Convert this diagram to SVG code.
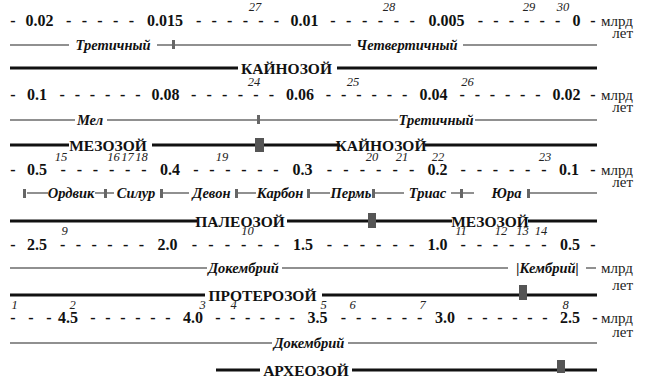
<svg xmlns="http://www.w3.org/2000/svg" width="650" height="383" viewBox="0 0 650 383">
<style>
text{font-family:"Liberation Serif","Times New Roman","DejaVu Serif",serif;fill:#111}
.num{font-weight:bold;font-size:16px;text-anchor:middle}
.dash{font-weight:bold;font-size:16px;text-anchor:middle}
.sup{font-style:italic;font-size:12.5px;fill:#222;text-anchor:middle}
.unit{font-size:15px;fill:#222;text-anchor:end}
.per{font-weight:bold;font-style:italic;font-size:14.5px;text-anchor:middle}
.era{font-weight:bold;font-size:15.5px;text-anchor:middle}
.thin{stroke:#222;stroke-width:1.2;fill:none}
.thick{stroke:#111;stroke-width:3;fill:none}
.tick{fill:#666}
.block{fill:#555}
</style>
<rect width="650" height="383" fill="#fff"/>

<g id="row1">
<text class="sup" y="11"><tspan x="255">27</tspan><tspan x="389">28</tspan><tspan x="529">29</tspan><tspan x="563">30</tspan></text>
<text class="dash" y="26" x="13">-</text>
<text class="dash" y="26" x="68.7 84.3 100 115.7 131.3">-----</text>
<text class="dash" y="26" x="198.6 214.1 229.7 245.3 260.9 276.4">------</text>
<text class="dash" y="26" x="332.9 348.7 364.6 380.4 396.3 412.1">------</text>
<text class="dash" y="26" x="480.4 495.9 511.3 526.7 542.1 557.6">------</text>
<text class="dash" y="26" x="593">-</text>
<text class="num" y="26" x="39.5">0.02</text>
<text class="num" y="26" x="165">0.015</text>
<text class="num" y="26" x="304.5">0.01</text>
<text class="num" y="26" x="446.5">0.005</text>
<text class="num" y="26" x="576.5">0</text>
<text class="unit" x="633" y="26">млрд</text>
<text class="unit" x="633" y="38">лет</text>
<path class="thin" d="M10 45H69M157 45H351M463 45H597"/>
<rect class="tick" x="172" y="40" width="3" height="9"/>
<text class="per" x="113" y="50">Третичный</text>
<text class="per" x="407" y="50">Четвертичный</text>
<path class="thick" d="M10 68H238M337 68H597"/>
<text class="era" x="286.5" y="73.5">КАЙНОЗОЙ</text>
</g>

<g id="row2">
<text class="sup" y="86"><tspan x="254">24</tspan><tspan x="353">25</tspan><tspan x="467.5">26</tspan></text>
<text class="dash" y="100" x="13">-</text>
<text class="dash" y="100" x="62.1 77.3 92.4 107.6 122.7 137.9">------</text>
<text class="dash" y="100" x="193.6 209.1 224.7 240.3 255.9 271.4">------</text>
<text class="dash" y="100" x="328.3 343.6 358.9 374.1 389.4 404.7">------</text>
<text class="dash" y="100" x="462.1 477.3 492.4 507.6 522.7 537.9">------</text>
<text class="dash" y="100" x="593">-</text>
<text class="num" y="100" x="37">0.1</text>
<text class="num" y="100" x="165.5">0.08</text>
<text class="num" y="100" x="300">0.06</text>
<text class="num" y="100" x="433.5">0.04</text>
<text class="num" y="100" x="566.5">0.02</text>
<text class="unit" x="633" y="100">млрд</text>
<text class="unit" x="633" y="112">лет</text>
<path class="thin" d="M10 120H75M107 120H398M475 120H597"/>
<rect class="tick" x="257" y="115" width="3" height="9"/>
<text class="per" x="90" y="125">Мел</text>
<text class="per" x="436" y="125">Третичный</text>
<path class="thick" d="M10 145H69M152 145H340M425 145H597"/>
<rect class="block" x="255" y="138" width="9" height="14"/>
<text class="era" x="108" y="150.5">МЕЗОЗОЙ</text>
<text class="era" x="381" y="150.5">КАЙНОЗОЙ</text>
</g>

<g id="row3">
<text class="sup" y="161"><tspan x="61">15</tspan><tspan x="113.5">16</tspan><tspan x="127.5">17</tspan><tspan x="141.5">18</tspan><tspan x="222">19</tspan><tspan x="372">20</tspan><tspan x="402">21</tspan><tspan x="438">22</tspan><tspan x="545">23</tspan></text>
<text class="dash" y="175" x="13">-</text>
<text class="dash" y="175" x="63.1 79.3 95.4 111.6 127.7 143.9">------</text>
<text class="dash" y="175" x="196 212 228 244 260 276">------</text>
<text class="dash" y="175" x="329.4 345.9 362.3 378.7 395.1 411.6">------</text>
<text class="dash" y="175" x="463.1 479.3 495.4 511.6 527.7 543.9">------</text>
<text class="dash" y="175" x="593">-</text>
<text class="num" y="175" x="37">0.5</text>
<text class="num" y="175" x="170">0.4</text>
<text class="num" y="175" x="302.5">0.3</text>
<text class="num" y="175" x="437.5">0.2</text>
<text class="num" y="175" x="569">0.1</text>
<text class="unit" x="633" y="175">млрд</text>
<text class="unit" x="633" y="187">лет</text>
<path class="thin" d="M27 193H48M95 193H114M163 193H189M238 193H256M310 193H330M375 193H404M451 193H474M530 193H597"/>
<rect class="tick" x="23" y="189" width="3" height="9"/>
<rect class="tick" x="104" y="189" width="3" height="9"/>
<rect class="tick" x="160" y="189" width="3" height="9"/>
<rect class="tick" x="235" y="189" width="3" height="9"/>
<rect class="tick" x="307" y="189" width="3" height="9"/>
<rect class="tick" x="372" y="189" width="3" height="9"/>
<rect class="tick" x="460" y="189" width="3" height="9"/>
<rect class="tick" x="527" y="189" width="3" height="9"/>
<text class="per" x="71" y="198">Ордвик</text>
<text class="per" x="136" y="198">Силур</text>
<text class="per" x="211.5" y="198">Девон</text>
<text class="per" x="280" y="198">Карбон</text>
<text class="per" x="351" y="198">Пермь</text>
<text class="per" x="427.5" y="198">Триас</text>
<text class="per" x="506.5" y="198">Юра</text>
<path class="thick" d="M10 221H197M287 221H452M528 221H597"/>
<rect class="block" x="368" y="213" width="8" height="15"/>
<text class="era" x="240" y="226.5">ПАЛЕОЗОЙ</text>
<text class="era" x="490" y="226.5">МЕЗОЗОЙ</text>
</g>

<g id="row4">
<text class="sup" y="235"><tspan x="64.5">9</tspan><tspan x="247.5">10</tspan><tspan x="461">11</tspan><tspan x="501">12</tspan><tspan x="522.5">13</tspan><tspan x="541">14</tspan></text>
<text class="dash" y="250" x="13">-</text>
<text class="dash" y="250" x="62.7 78.4 94.1 109.9 125.6 141.3">------</text>
<text class="dash" y="250" x="194.4 210.9 227.3 243.7 260.1 276.6">------</text>
<text class="dash" y="250" x="329.4 345.9 362.3 378.7 395.1 411.6">------</text>
<text class="dash" y="250" x="463.1 479.3 495.4 511.6 527.7 543.9">------</text>
<text class="dash" y="250" x="593">-</text>
<text class="num" y="250" x="37">2.5</text>
<text class="num" y="250" x="167.5">2.0</text>
<text class="num" y="250" x="303">1.5</text>
<text class="num" y="250" x="437.5">1.0</text>
<text class="num" y="250" x="570">0.5</text>
<path class="thin" d="M10 268H207M282 268H508M586 268H596"/>
<text class="per" x="243.5" y="273">Докембрий</text>
<text class="per" x="547.5" y="273">|Кембрий|</text>
<text class="unit" x="633" y="273">млрд</text>
<text class="unit" x="633" y="290">лет</text>
<path class="thick" d="M10 295H205M322 295H597"/>
<rect class="block" x="519" y="285" width="8" height="15"/>
<text class="era" x="262.5" y="300.5">ПРОТЕРОЗОЙ</text>
</g>

<g id="row5">
<text class="sup" y="309"><tspan x="14.5">1</tspan><tspan x="72.5">2</tspan><tspan x="202.5">3</tspan><tspan x="233.5">4</tspan><tspan x="323.5">5</tspan><tspan x="352.5">6</tspan><tspan x="422.5">7</tspan><tspan x="565.5">8</tspan></text>
<text class="dash" y="323" x="13 31 49">---</text>
<text class="dash" y="323" x="93 108 123 138 153 168">------</text>
<text class="dash" y="323" x="217.9 232.7 247.6 262.4 277.3 292.1">------</text>
<text class="dash" y="323" x="343.3 358.6 373.9 389.1 404.4 419.7">------</text>
<text class="dash" y="323" x="470 485 500 515 530 545">------</text>
<text class="dash" y="323" x="595">-</text>
<text class="num" y="323" x="68">4.5</text>
<text class="num" y="323" x="193">4.0</text>
<text class="num" y="323" x="317.5">3.5</text>
<text class="num" y="323" x="445">3.0</text>
<text class="num" y="323" x="570">2.5</text>
<text class="unit" x="633" y="323">млрд</text>
<text class="unit" x="633" y="337">лет</text>
<path class="thin" d="M10 343H272M348 343H597"/>
<text class="per" x="309" y="348">Докембрий</text>
<path class="thick" d="M216 370H260M352 370H597"/>
<rect class="block" x="557" y="360" width="8" height="13"/>
<text class="era" x="306" y="375.5">АРХЕОЗОЙ</text>
</g>
</svg>
